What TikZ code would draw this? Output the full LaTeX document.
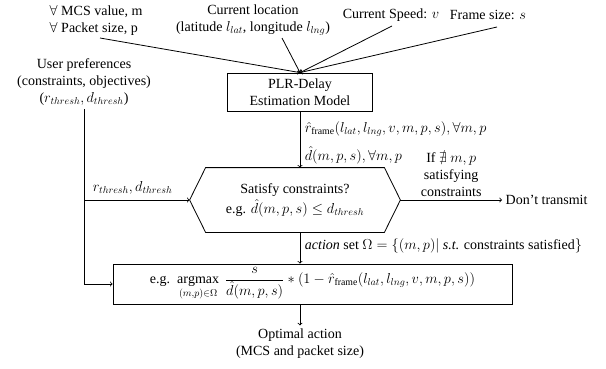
\documentclass[tikz,border=0pt]{standalone}
\usepackage{amsmath,amssymb}
\usepackage{fontspec}
\setmainfont{Liberation Serif}
\usetikzlibrary{arrows}
\usetikzlibrary{calc}

\begin{document}
\begin{tikzpicture}[x=1pt, y=1pt, line width=0.8pt,
        txt/.style={font=\fontsize{14}{17}\selectfont, align=center},
        blk/.style={txt, draw, inner sep=0pt},
        lbl/.style={txt, anchor=west, inner sep=0.5pt}]
        \useasboundingbox (0,0) rectangle (606,368);

        % inputs
        \node[txt, align=left, anchor=west] (mcs) at (46,348) {$\forall$ MCS value, m\\$\forall$ Packet size, p};
        \node[txt] (loc) at (253,348) {Current location\\(latitude $l_{lat}$, longitude $l_{lng}$)};
        \node[txt] (spd) at (391,353) {Current Speed: $v$};
        \node[txt] (frm) at (488,353) {Frame size: $s$};
        \node[txt] (usr) at (84,286) {User preferences\\(constraints, objectives)\\($r_{thresh}, d_{thresh}$)};

        \coordinate (A) at (100,330);
        \coordinate (B) at (282,330);
        \coordinate (C) at (392,342);
        \coordinate (D) at (497,341);

        % blocks
        \node[blk, minimum width=145, minimum height=38] (plr) at (300,276) {PLR-Delay\\Estimation Model};
        \node[txt, inner sep=0pt, minimum width=210, minimum height=64] (chk) at (295,168)
            {Satisfy constraints?\\[3pt] e.g. $\hat{d}(m,p,s) \leq d_{thresh}$};
        \draw (chk.west) -- ([xshift=16]chk.north west) -- ([xshift=-16]chk.north east)
            -- (chk.east) -- ([xshift=-16]chk.south east) -- ([xshift=16]chk.south west) -- cycle;
        \node[blk, minimum width=399, minimum height=40] (opt) at (312.5,84)
            {e.g.\ \ $\displaystyle\operatorname*{argmax}_{(m,p)\in\Omega}\ \frac{s}{\hat{d}(m,p,s)} * (1-\hat{r}_{\text{frame}}(l_{lat}, l_{lng}, v, m, p, s))$};
        \node[txt, anchor=west] (skip) at (502,168) {Don’t transmit};
        \node[txt] (res) at (300,24) {Optimal action\\(MCS and packet size)};

        % connectors
        \draw[->] (A) -- (plr.north);
        \draw[->] (B) -- (plr.north);
        \draw[->] (C) -- (plr.north);
        \draw[->] (D) -- (plr.north);
        \draw[->] (plr.south) -- (plr.south |- chk.north);
        \draw[->] (chk.east) -- (skip.west) node[txt, midway, above=0pt] {If $\nexists\ m, p$\\satisfying\\constraints};
        \draw[->] (usr.south) |- (chk.west) node[txt, pos=0.73, above=2pt] {$r_{thresh}, d_{thresh}$};
        \draw[->] (usr.south) |- (opt.west);
        \draw[->] (plr.south |- chk.south) -- (plr.south |- opt.north);
        \draw[->] (plr.south |- opt.south) -- (res.north);

        % edge labels
        \node[lbl] (rhat) at (304,239) {$\hat{r}_{\text{frame}}(l_{lat}, l_{lng}, v, m, p, s), \forall m, p$};
        \node[lbl] (dhat) at (304,213) {$\hat{d}(m,p,s), \forall m, p$};
        \node[lbl] (act) at (304,122) {\textit{action} set $\Omega = \{(m,p)|$ \textit{s.t.} constraints satisfied$\}$};
    \end{tikzpicture}
\end{document}
